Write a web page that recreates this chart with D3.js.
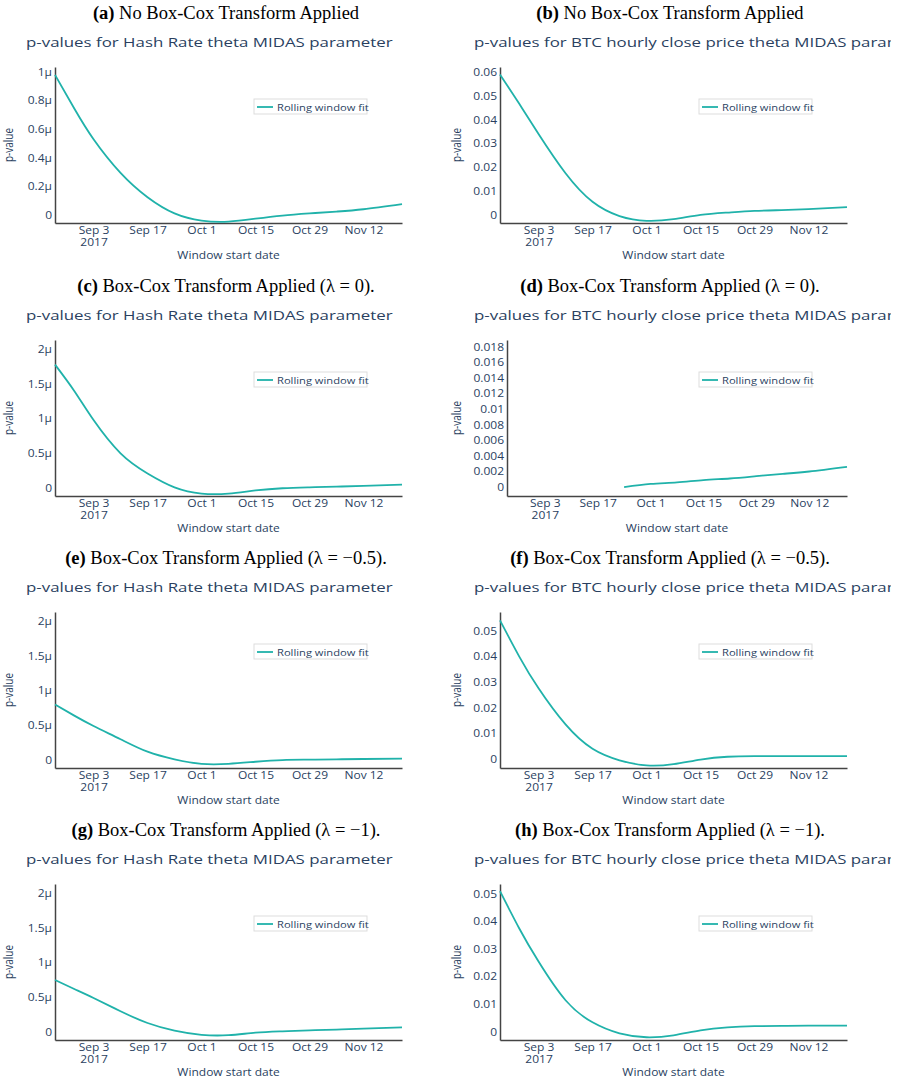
<!DOCTYPE html>
<html lang="en">
<head>
<meta charset="UTF-8">
<title>p-values rolling window fit</title>
<script src="https://cdn.jsdelivr.net/npm/d3@7"></script>
<style>
  body { margin: 0; background: #fff; }
  text { font-family: "Open Sans", sans-serif; fill: #2a3f5f; }
  text.cap { font-family: "Liberation Serif", "Times New Roman", serif; fill: #000; }
</style>
</head>
<body>
<script>
// window start dates
var dates = ["2017-08-24","2017-08-29","2017-09-03","2017-09-10","2017-09-17","2017-09-24","2017-10-01",
             "2017-10-08","2017-10-15","2017-10-22","2017-10-29","2017-11-05","2017-11-12","2017-11-22"];
var xTickDates = ["2017-09-03","2017-09-17","2017-10-01","2017-10-15","2017-10-29","2017-11-12"];

// Hash Rate p-values, in micro units (μ)
var hashNoBoxCox = [0.98, 0.745, 0.53, 0.295, 0.125, 0.012, -0.038, -0.045, -0.025, -0.003, 0.012, 0.025, 0.041, 0.077];
var hashLambda0  = [1.78, 1.40, 0.98, 0.50, 0.21, 0.01, -0.08, -0.08, -0.035, -0.003, 0.010, 0.020, 0.030, 0.048];
var hashLambdaM05 = [0.80, 0.64, 0.49, 0.30, 0.12, 0.01, -0.055, -0.055, -0.025, 0.000, 0.005, 0.010, 0.015, 0.020];
var hashLambdaM1 = [0.75, 0.62, 0.49, 0.30, 0.13, 0.02, -0.04, -0.045, -0.01, 0.01, 0.025, 0.035, 0.048, 0.067];

// BTC hourly close price p-values
var btcNoBoxCox = [0.0590, 0.0467, 0.0340, 0.0175, 0.0055, -0.0005, -0.0025, -0.0018, 0.0000, 0.0010, 0.0017, 0.0020, 0.0024, 0.0033];
var btcLambda0  = [null, null, null, null, null, 0.0000, 0.0004, 0.0006, 0.0009, 0.0011, 0.0014, 0.0017, 0.0020, 0.0026];
var btcLambdaM05 = [0.0541, 0.0400, 0.0276, 0.0135, 0.0040, -0.0005, -0.0025, -0.0020, -0.0002, 0.0009, 0.0011, 0.0011, 0.0011, 0.0011];
var btcLambdaM1 = [0.0510, 0.0375, 0.0255, 0.0115, 0.0035, -0.0005, -0.0019, -0.0012, 0.0006, 0.0017, 0.0021, 0.0022, 0.0023, 0.0023];

var letters = ["a","b","c","d","e","f","g","h"];
var captions = ["No Box-Cox Transform Applied","No Box-Cox Transform Applied",
                "Box-Cox Transform Applied (λ = 0).","Box-Cox Transform Applied (λ = 0).",
                "Box-Cox Transform Applied (λ = −0.5).","Box-Cox Transform Applied (λ = −0.5).",
                "Box-Cox Transform Applied (λ = −1).","Box-Cox Transform Applied (λ = −1)."];
var titleHash = "p-values for Hash Rate theta MIDAS parameter";
var titleBtc = "p-values for BTC hourly close price theta MIDAS parameter";

var yRanges = [[-0.055, 1.035], [-0.0034, 0.0622], [-0.115, 2.135], [-0.00115, 0.0189],
               [-0.115, 2.135], [-0.0035, 0.0574], [-0.115, 2.135], [-0.0029, 0.0536]];
var yTicksHashA = [0, 0.2, 0.4, 0.6, 0.8, 1];
var yTicksHash = [0, 0.5, 1, 1.5, 2];
var yTicksBtcB = [0, 0.01, 0.02, 0.03, 0.04, 0.05, 0.06];
var yTicksBtcD = [0, 0.002, 0.004, 0.006, 0.008, 0.01, 0.012, 0.014, 0.016, 0.018];
var yTicksBtc = [0, 0.01, 0.02, 0.03, 0.04, 0.05];

var series = [hashNoBoxCox, btcNoBoxCox, hashLambda0, btcLambda0, hashLambdaM05, btcLambdaM05, hashLambdaM1, btcLambdaM1];
var yTicks = [yTicksHashA, yTicksBtcB, yTicksHash, yTicksBtcD, yTicksHash, yTicksBtc, yTicksHash, yTicksBtc];

// layout
var width = 897, height = 1080;
var rowTop = [0, 273, 545, 817];
var colX = [0, 448];
var colRight = [448, 891];
var plotLeft = [55, 500, 55, 507, 55, 500, 55, 500];
var plotRight = [402, 847];
var SX = 1.2;            // plotly text looks stretched horizontally in the figure
var SXT = 1.43;          // titles even more so
var lineColor = "#20b2aa";

var parseDate = d3.timeParse("%Y-%m-%d");
var xDates = dates.map(parseDate);

var svg = d3.select("body").append("svg")
    .attr("width", width)
    .attr("height", height);

var defs = svg.append("defs");
[0, 1].forEach(function (c) {
  defs.append("clipPath").attr("id", "col" + c)
    .append("rect")
    .attr("x", colX[c]).attr("y", 0)
    .attr("width", colRight[c] - colX[c]).attr("height", height);
});

series.forEach(function (vals, i) {
  var col = i % 2, row = Math.floor(i / 2);
  var top = rowTop[row] + 67, bottom = rowTop[row] + 223;
  var left = plotLeft[i], right = plotRight[col];
  var isHash = col === 0;

  var g = svg.append("g").attr("clip-path", "url(#col" + col + ")");

  // caption (sub-figure label)
  var cap = g.append("text").attr("class", "cap")
      .attr("x", col === 0 ? 226 : 670)
      .attr("y", rowTop[row] + 19)
      .attr("text-anchor", "middle")
      .style("font-size", "18.5px");
  cap.append("tspan").style("font-weight", "bold").text("(" + letters[i] + ")");
  cap.append("tspan").text(" " + captions[i]);

  // plotly title (the right-hand one runs past the column and is cut, as in the figure)
  g.append("text")
      .attr("transform", "translate(" + (colX[col] + 26) + "," + (rowTop[row] + 47) + ") scale(" + SXT + ",1)")
      .style("font-size", "11.8px")
      .text(isHash ? titleHash : titleBtc);

  var x = d3.scaleTime()
      .domain([parseDate("2017-08-24"), parseDate("2017-11-22")])
      .range([left, right]);
  var y = d3.scaleLinear().domain(yRanges[i]).range([bottom, top]);

  var fmt = isHash
      ? function (v) { return v === 0 ? "0" : d3.format("~g")(v) + "μ"; }
      : function (v) { return v === 0 ? "0" : d3.format("~g")(+v.toFixed(4)); };

  // y axis
  var ya = g.append("g")
      .attr("transform", "translate(" + left + ",0)")
      .call(d3.axisLeft(y).tickValues(yTicks[i]).tickSize(0).tickSizeOuter(0).tickPadding(3).tickFormat(fmt));
  ya.selectAll("text").style("font-size", "10px").attr("fill", "#2a3f5f")
      .attr("transform", "scale(" + SX + ",1)")
      .attr("x", -3 / SX);

  // x axis
  var xa = g.append("g")
      .attr("transform", "translate(0," + bottom + ")")
      .call(d3.axisBottom(x).tickValues(xTickDates.map(parseDate)).tickSize(0).tickSizeOuter(0).tickPadding(4)
            .tickFormat(d3.timeFormat("%b %-d")));
  xa.selectAll("text").style("font-size", "10px").attr("fill", "#2a3f5f")
      .attr("transform", "scale(" + SX + ",1)");
  xa.select(".tick text").append("tspan").attr("x", 0).attr("dy", "1.15em").text("2017");

  g.selectAll(".domain").attr("stroke", "#444").attr("stroke-width", 1.5);

  // axis titles
  g.append("text")
      .attr("transform", "translate(" + ((left + right) / 2) + "," + (bottom + 36) + ") scale(" + SX + ",1)")
      .attr("text-anchor", "middle")
      .style("font-size", "10px")
      .text("Window start date");
  g.append("text")
      .attr("transform", "translate(" + (colX[col] + 13) + "," + ((top + bottom) / 2) + ") scale(" + SX + ",1) rotate(-90)")
      .attr("text-anchor", "middle")
      .style("font-size", "10px")
      .text("p-value");

  // the curve
  var pts = xDates.map(function (d, k) { return { date: d, v: vals[k] }; });
  var line = d3.line()
      .defined(function (d) { return d.v !== null; })
      .x(function (d) { return x(d.date); })
      .y(function (d) { return y(d.v); })
      .curve(d3.curveNatural);
  g.append("path")
      .datum(pts)
      .attr("fill", "none")
      .attr("stroke", lineColor)
      .attr("stroke-width", 1.8)
      .attr("d", line);

  // legend
  var lx = right - 148, ly = rowTop[row] + 99;
  var lg = g.append("g").attr("transform", "translate(" + lx + "," + ly + ")");
  lg.append("rect").attr("width", 113).attr("height", 15)
      .attr("fill", "#fff").attr("stroke", "#ddd").attr("stroke-width", 1);
  lg.append("line").attr("x1", 3).attr("x2", 19).attr("y1", 8).attr("y2", 8)
      .attr("stroke", lineColor).attr("stroke-width", 1.8);
  lg.append("text")
      .attr("transform", "translate(23,11.5) scale(" + SX + ",1)")
      .style("font-size", "9.3px")
      .text("Rolling window fit");
});
</script>
</body>
</html>
